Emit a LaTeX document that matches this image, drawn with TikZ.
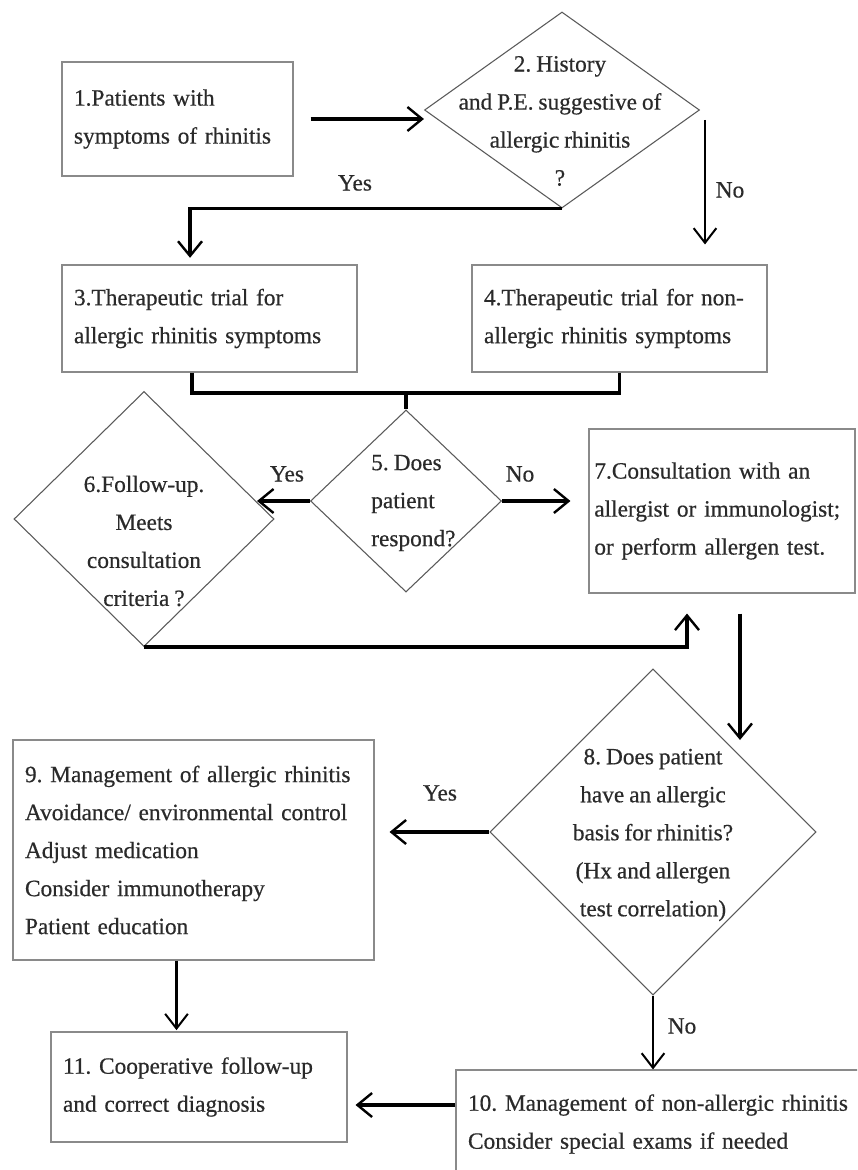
\documentclass[tikz,border=0pt]{standalone}
\usepackage{fontspec}
\setmainfont{Liberation Serif}
\newfontfamily\medfont{Liberation Serif}[FakeBold=0.5,WordSpace=0.85]
\usetikzlibrary{arrows.meta,shapes.geometric}
\definecolor{boxgray}{HTML}{8A8A8A}
\definecolor{diagray}{HTML}{5A5A5A}
\definecolor{txtgray}{HTML}{2A2A2A}
\newcommand\txtfont{\medfont\fontsize{17.5}{28.5}\selectfont\frenchspacing}
\tikzset{
 box/.style={draw=boxgray, line width=0.8pt, align=left, inner xsep=9pt, inner ysep=0pt, font=\txtfont, text=txtgray},
 dia/.style={diamond, draw=diagray, line width=0.8pt, inner sep=0pt},
 txt/.style={align=center, inner sep=0pt, font=\txtfont, text=txtgray},
 lbl/.style={inner sep=0pt, font=\txtfont, text=txtgray},
 arr/.style={line width=2.4pt, -{Straight Barb[length=11pt,width=18pt,line width=1.8pt]}},
 arrthin/.style={line width=1.6pt, -{Straight Barb[length=11pt,width=17pt,line width=1.5pt]}},
 conn/.style={line width=2.4pt},
}
\begin{document}
\begin{tikzpicture}[x=0.75pt,y=-0.75pt]
\useasboundingbox (0,0) rectangle (857,1170);
\clip (0,0) rectangle (857,1170);
\fill[white] (0,0) rectangle (857,1170);

% boxes
\node[box, text width=155.25pt, minimum height=85.5pt] (b1) at (177.5,119) {1.Patients with\\symptoms of rhinitis};
\node[box, text width=203.25pt, minimum height=80.25pt] (b3) at (209.5,318.5) {3.Therapeutic trial for\\allergic rhinitis symptoms};
\node[box, text width=203.25pt, minimum height=80.25pt] (b4) at (619.5,318.5) {4.Therapeutic trial for non-\\allergic rhinitis symptoms};
\node[box, inner xsep=4pt, text width=191.5pt, minimum height=123pt] (b7) at (722,511) {7.Consultation with an\\allergist or immunologist;\\or perform allergen test.};
\node[box, text width=252.75pt, minimum height=165pt] (b9) at (193.5,850) {9. Management of allergic rhinitis\\Avoidance/ environmental control\\Adjust medication\\Consider immunotherapy\\Patient education};
\node[box, text width=204pt, minimum height=82.5pt] (b11) at (199,1087) {11. Cooperative follow-up\\and correct diagnosis};
\node[box, text width=297pt, minimum height=81pt] (b10) at (666,1124) {10. Management of non-allergic rhinitis\\Consider special exams if needed};

% diamonds
\node[dia, minimum width=206.25pt, minimum height=147pt] (d2) at (562,110) {};
\node[txt] (t2) at (560,121) {2. History\\and P.E. suggestive of\\allergic rhinitis\\?};
\node[dia, minimum width=143.25pt, minimum height=136.5pt] (d5) at (406,501) {};
\node[txt, align=left, anchor=west] (t5) at (371,503) {5. Does\\patient\\respond?};
\node[dia, minimum width=195pt, minimum height=191.25pt] (d6) at (144,519) {};
\node[txt] (t6) at (144,541) {6.Follow-up.\\Meets\\consultation\\criteria ?};
\node[dia, minimum width=244.5pt, minimum height=244.5pt] (d8) at (653,832) {};
\node[txt] (t8) at (653,835) {8. Does patient\\have an allergic\\basis for rhinitis?\\(Hx and allergen\\test correlation)};

% labels
\node[lbl] (l1) at (355,183) {Yes};
\node[lbl] (l2) at (730,190) {No};
\node[lbl] (l3) at (287,474) {Yes};
\node[lbl] (l4) at (520,474) {No};
\node[lbl] (l5) at (440,793) {Yes};
\node[lbl] (l6) at (682,1026) {No};

% helper coordinates
\coordinate (n2) at (705,120);
\coordinate (j) at (406,393);
\coordinate (e56) at (257,501);
\coordinate (e78) at (740,740);

% connectors
\draw[arr, shorten <=12.75pt] (b1.east) -- (b1.east -| d2.west);
\draw[arr, shorten >=5pt] (d2.south) -| ([xshift=-14.6pt]b3.north);
\draw[arrthin, shorten >=15pt] (n2) -- (n2 |- b4.north);
\draw[conn] ([xshift=-13.1pt]b3.south) |- (j) -| (b4.south);
\draw[conn] (j) -- (d5.north);
\draw[arr] (d5.west) -- (e56);
\draw[arr, shorten >=13.5pt] (d5.east) -- (d5.east -| b7.west);
\draw[arr, shorten >=15pt] (d6.south) -| ([xshift=-26.25pt]b7.south);
\draw[arr] ([xshift=13.5pt,yshift=-15pt]b7.south) -- (e78);
\draw[arr, shorten >=11.25pt] (d8.west) -- (d8.west -| b9.east);
\draw[arrthin, shorten >=1pt] ([xshift=-12.75pt]b9.south) -- ([xshift=-12.75pt]b9.south |- b11.north);
\draw[arrthin] (d8.south) -- (d8.south |- b10.north);
\draw[arr, shorten >=6pt] ([yshift=14.25pt]b10.west) -- ([yshift=14.25pt]b10.west -| b11.east);
\end{tikzpicture}
\end{document}
